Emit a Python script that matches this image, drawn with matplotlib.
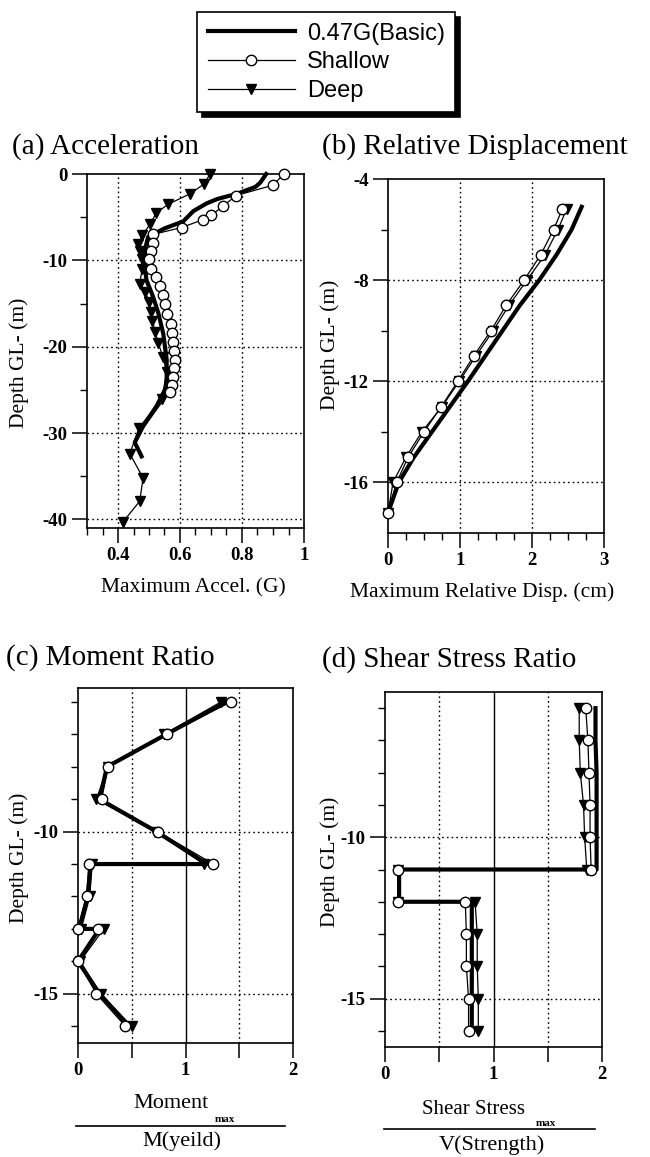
import matplotlib
matplotlib.use('Agg')
import matplotlib.pyplot as plt
from matplotlib.lines import Line2D
from matplotlib.ticker import FixedLocator
import numpy as np

W, H = 650, 1157
SERIF = ['Liberation Serif', 'DejaVu Serif']
SANS = ['Liberation Sans', 'DejaVu Sans']
plt.rcParams['font.family'] = SERIF

series_labels = ['0.47G(Basic)', 'Shallow', 'Deep']

# ---------------- (a) Acceleration ----------------
acc_basic_depth = [0, -1.0, -1.5, -2.3, -2.9, -3.4, -4.3, -5.5, -6.3, -7.3, -8.9, -10.8,
                   -12.3, -14.2, -16.1, -18.5, -21.5, -24.6, -26.9, -29.2, -31.1, -32.7]
acc_basic = [0.878, 0.859, 0.843, 0.783, 0.72, 0.686, 0.643, 0.61, 0.55, 0.497, 0.486, 0.486,
             0.492, 0.513, 0.53, 0.546, 0.557, 0.557, 0.524, 0.481, 0.454, 0.476]
acc_shallow_depth = [0, -1.3, -2.5, -3.7, -4.8, -5.3, -6.2, -7.0, -8.0, -8.9, -9.9, -11.0,
                     -11.9, -13.0, -14.0, -15.1, -16.2, -17.4, -18.4, -19.4, -20.5, -21.5,
                     -22.5, -23.5, -24.4, -25.2, -27.5, -29.5, -31.0]
acc_shallow = [0.935, 0.90, 0.78, 0.74, 0.70, 0.673, 0.605, 0.513, 0.513, 0.508, 0.50, 0.508,
               0.524, 0.535, 0.546, 0.552, 0.557, 0.571, 0.573, 0.576, 0.581, 0.584,
               0.581, 0.578, 0.573, 0.567, 0.52, 0.48, 0.455]
acc_shallow_marked = 26
acc_deep_depth = [0, -1.15, -2.3, -3.5, -4.5, -5.8, -7.1, -8.1, -8.9, -9.8, -11.0, -12.7,
                  -13.7, -14.8, -16.0, -17.0, -18.3, -19.6, -21.2, -22.9, -26.1, -29.4,
                  -32.4, -35.2, -37.9, -40.3]
acc_deep = [0.697, 0.678, 0.632, 0.562, 0.524, 0.503, 0.479, 0.465, 0.47, 0.476, 0.478, 0.47,
            0.488, 0.50, 0.507, 0.511, 0.52, 0.53, 0.545, 0.557, 0.541, 0.468,
            0.438, 0.481, 0.47, 0.416]

# ---------------- (b) Relative displacement ----------------
disp_basic_depth = [-5.1, -6, -7, -8, -9, -10, -11, -12, -13, -14, -15, -16, -17.2]
disp_basic = [2.69, 2.55, 2.34, 2.10, 1.83, 1.59, 1.35, 1.11, 0.86, 0.61, 0.36, 0.15, 0.0]
disp_depth = [-5.2, -6, -7, -8, -9, -10, -11, -12, -13, -14, -15, -16, -17.2]
disp_shallow = [2.42, 2.30, 2.12, 1.89, 1.64, 1.43, 1.19, 0.97, 0.74, 0.50, 0.28, 0.12, 0.0]
disp_deep = [2.48, 2.36, 2.18, 1.93, 1.68, 1.46, 1.22, 0.99, 0.75, 0.47, 0.25, 0.07, 0.0]

# ---------------- (c) Moment ratio ----------------
mom_depth = [-6, -7, -8, -9, -10, -11, -11, -12, -13, -13, -14, -15, -16]
mom_basic = [1.38, 0.82, 0.27, 0.20, 0.73, 1.20, 0.12, 0.09, 0.01, 0.20, 0.00, 0.20, 0.47]
mom_shallow = [1.42, 0.83, 0.28, 0.22, 0.74, 1.26, 0.10, 0.08, 0.00, 0.19, 0.00, 0.17, 0.44]
mom_deep = [1.33, 0.80, 0.28, 0.17, 0.72, 1.17, 0.13, 0.11, 0.03, 0.24, 0.02, 0.21, 0.50]

# ---------------- (d) Shear stress ratio ----------------
shr_depth = [-6, -7, -8, -9, -10, -11, -11, -12, -12, -13, -14, -15, -16]
shr_basic = [1.94, 1.94, 1.95, 1.95, 1.95, 1.95, 0.13, 0.13, 0.80, 0.80, 0.80, 0.80, 0.80]
shr_shallow = [1.85, 1.87, 1.88, 1.89, 1.89, 1.90, 0.12, 0.12, 0.74, 0.75, 0.75, 0.77, 0.77]
shr_deep = [1.79, 1.79, 1.80, 1.83, 1.84, 1.86, 0.12, 0.12, 0.83, 0.85, 0.85, 0.86, 0.86]

titles = ['(a) Acceleration', '(b) Relative Displacement', '(c) Moment Ratio', '(d) Shear Stress Ratio']
ylabel = 'Depth GL- (m)'
xlabel_a = 'Maximum Accel. (G)'
xlabel_b = 'Maximum Relative Disp. (cm)'

fig = plt.figure(figsize=(W / 100, H / 100), dpi=100)


def px_axes(l, t, r, b):
    return fig.add_axes([l / W, 1 - b / H, (r - l) / W, (b - t) / H])


def ftext(x, y, s, **kw):
    fig.text(x / W, 1 - y / H, s, **kw)


BASIC = dict(color='black', lw=3.0, zorder=3, clip_on=False)
SHAL = dict(color='black', lw=0.9, marker='o', ms=7.5, mfc='white', mec='black', mew=1.0,
            zorder=5, clip_on=False)
DEEP = dict(color='black', lw=0.9, marker='v', ms=7.5, mfc='black', mec='black',
            zorder=4, clip_on=False)
DOT = dict(color='black', lw=1.0, ls=(0, (1.2, 2.2)), zorder=1)


def style(ax, xlim, ylim, xmaj, xlab, xmin, ymaj, ylab, ymin, xgrid, ygrid, xsolid=()):
    ax.set_xlim(*xlim)
    ax.set_ylim(*ylim)
    ax.xaxis.set_major_locator(FixedLocator(xmaj))
    ax.set_xticklabels(xlab)
    ax.xaxis.set_minor_locator(FixedLocator(xmin))
    ax.yaxis.set_major_locator(FixedLocator(ymaj))
    ax.set_yticklabels(ylab)
    ax.yaxis.set_minor_locator(FixedLocator(ymin))
    ax.tick_params(which='major', direction='out', length=11, width=1.1, labelsize=13.5, pad=3)
    ax.tick_params(which='minor', direction='out', length=5, width=1.0)
    for v in xgrid:
        ax.axvline(v, **DOT)
    for v in xsolid:
        ax.axvline(v, color='black', lw=1.0, zorder=1)
    for v in ygrid:
        ax.axhline(v, **DOT)
    for s in ax.spines.values():
        s.set_linewidth(1.2)
    for lbl in ax.get_xticklabels() + ax.get_yticklabels():
        lbl.set_fontweight('bold')


# ---- (a)
ax_a = px_axes(87, 174, 304, 528)
ax_a.plot(acc_basic, acc_basic_depth, **BASIC)
ax_a.plot(acc_deep, acc_deep_depth, **DEEP)
ax_a.plot(acc_shallow, acc_shallow_depth, markevery=list(range(acc_shallow_marked)), **SHAL)
style(ax_a, (0.3, 1.0), (-41, 0), [0.4, 0.6, 0.8, 1.0], ['0.4', '0.6', '0.8', '1'],
      list(np.arange(0.3, 1.001, 0.05)), [0, -10, -20, -30, -40],
      ['0', '-10', '-20', '-30', '-40'], [-5, -15, -25, -35],
      [0.4, 0.6, 0.8], [-10, -20, -30, -40])

# ---- (b)
ax_b = px_axes(388, 179, 604, 533)
ax_b.plot(disp_basic, disp_basic_depth, **BASIC)
ax_b.plot(disp_deep, disp_depth, **DEEP)
ax_b.plot(disp_shallow, disp_depth, **SHAL)
style(ax_b, (0, 3), (-18, -4), [0, 1, 2, 3], ['0', '1', '2', '3'],
      list(np.arange(0, 3.001, 0.25)), [-4, -8, -12, -16], ['-4', '-8', '-12', '-16'],
      [-6, -10, -14], [1, 2], [-8, -12, -16])

# ---- (c)
ax_c = px_axes(78, 688, 293, 1043)
ax_c.plot(mom_basic, mom_depth, **BASIC)
ax_c.plot(mom_deep, mom_depth, **DEEP)
ax_c.plot(mom_shallow, mom_depth, **SHAL)
style(ax_c, (0, 2), (-16.52, -5.57), [0, 0.5, 1, 1.5, 2], ['0', '', '1', '', '2'],
      [], [-10, -15], ['-10', '-15'], list(range(-16, -5)),
      [0.5, 1.5], [-10, -15], xsolid=[1])

# ---- (d)
ax_d = px_axes(385, 692, 602, 1047)
ax_d.plot(shr_basic, shr_depth, **BASIC)
ax_d.plot(shr_deep, shr_depth, **DEEP)
ax_d.plot(shr_shallow, shr_depth, **SHAL)
style(ax_d, (0, 2), (-16.5, -5.5), [0, 0.5, 1, 1.5, 2], ['0', '', '1', '', '2'],
      [], [-10, -15], ['-10', '-15'], list(range(-16, -5)),
      [0.5, 1.5], [-10, -15], xsolid=[1])

# ---- titles
TFS = 21
ftext(12, 147, titles[0], fontsize=TFS, va='center', ha='left')
ftext(322, 147, titles[1], fontsize=TFS, va='center', ha='left')
ftext(6, 658, titles[2], fontsize=TFS, va='center', ha='left')
ftext(322, 660, titles[3], fontsize=TFS, va='center', ha='left')

# ---- y labels
LFS = 15.5
ftext(19, 363, ylabel, fontsize=LFS, rotation=90, va='center', ha='center')
ftext(330, 345, ylabel, fontsize=LFS, rotation=90, va='center', ha='center')
ftext(19, 858, ylabel, fontsize=LFS, rotation=90, va='center', ha='center')
ftext(330, 862, ylabel, fontsize=LFS, rotation=90, va='center', ha='center')

# ---- x labels
ftext(193, 588, xlabel_a, fontsize=LFS, va='center', ha='center')
ftext(482, 592, xlabel_b, fontsize=LFS, va='center', ha='center')

# fraction labels
ftext(171, 1103, 'Moment', fontsize=16, va='center', ha='center')
ftext(225, 1119, 'max', fontsize=8, fontweight='bold', va='center', ha='center')
fig.add_artist(Line2D([76 / W, 285 / W], [1 - 1126 / H, 1 - 1126 / H], color='black', lw=1.2))
ftext(182, 1141, 'M(yeild)', fontsize=16, va='center', ha='center')

ftext(474, 1110, 'Shear Stress', fontsize=15, va='center', ha='center')
ftext(546, 1123, 'max', fontsize=8, fontweight='bold', va='center', ha='center')
fig.add_artist(Line2D([384 / W, 595 / W], [1 - 1129 / H, 1 - 1129 / H], color='black', lw=1.2))
ftext(492, 1145, 'V(Strength)', fontsize=16, va='center', ha='center')

# ---- legend
def _h(d):
    return Line2D([], [], **{k: v for k, v in d.items() if k not in ('clip_on', 'zorder')})


handles = [_h(BASIC), _h(SHAL), _h(DEEP)]
leg = fig.legend(handles, series_labels, loc='upper left',
                 bbox_to_anchor=(197 / W, 1 - 12 / H), prop={'family': SANS, 'size': 17},
                 frameon=True, fancybox=False, edgecolor='black', framealpha=1,
                 shadow={'ox': 3.5, 'oy': -3.5, 'shade': 1.0, 'alpha': 1},
                 handlelength=3.7, handletextpad=0.5, borderpad=0.45, labelspacing=0.28,
                 borderaxespad=0)
leg.get_frame().set_linewidth(1.2)

fig.savefig('out.png', dpi=100)
